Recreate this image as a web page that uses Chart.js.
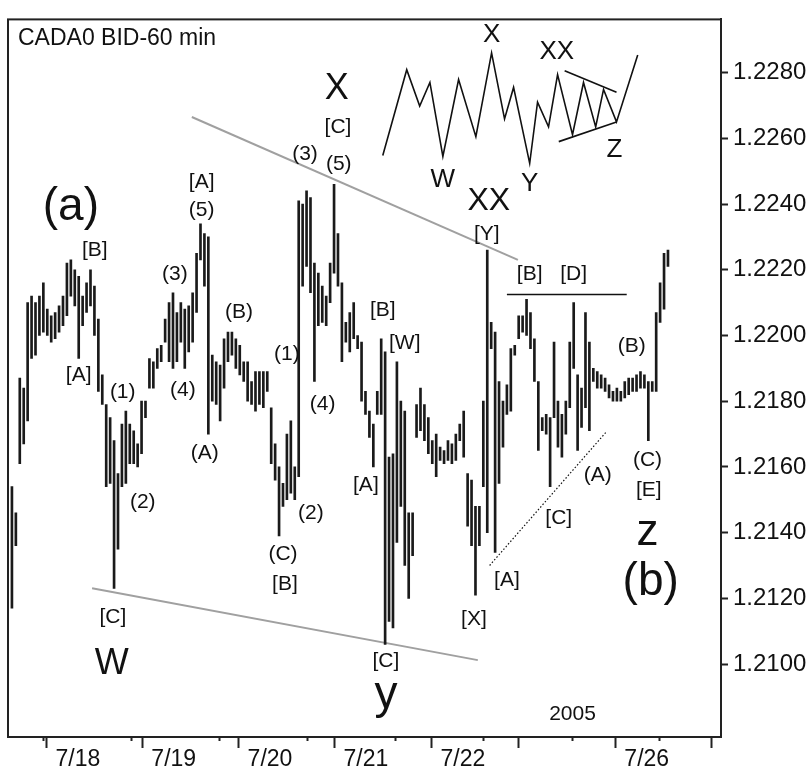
<!DOCTYPE html>
<html>
<head>
<meta charset="utf-8">
<script src="https://cdn.jsdelivr.net/npm/chart.js@4.4.0/dist/chart.umd.min.js"></script>
<style>
  html, body { margin: 0; padding: 0; background: #fff; }
  canvas { display: block; background: #fff; }
</style>
</head>
<body>
<canvas id="myChart" width="811" height="767"></canvas>
<script>
// hourly bars, CAD BID 60 min, 7/17 evening .. 7/26
var highs = [
  1.2154, 1.2146, 1.2187, 1.2184, 1.2210, 1.2212, 1.2210, 1.2212, 1.2216, 1.2208,
  1.2206, 1.2207, 1.2209, 1.2212, 1.2222, 1.2223, 1.2220, 1.2218, 1.2212, 1.2216,
  1.2220, 1.2215, 1.2205, 1.2188, 1.2179, 1.2175, 1.2168, 1.2158, 1.2173, 1.2177,
  1.2173, 1.2171, 1.2167, 1.2180, 1.2180, 1.2193, 1.2192, 1.2196, 1.2197, 1.2205,
  1.2210, 1.2213, 1.2207, 1.2210, 1.2208, 1.2209, 1.2213, 1.2225, 1.2234, 1.2231,
  1.2230, 1.2194, 1.2192, 1.2191, 1.2199, 1.2201, 1.2201, 1.2199, 1.2197, 1.2192,
  1.2192, 1.2186, 1.2189, 1.2189, 1.2189, 1.2189, 1.2178, 1.2167, 1.2160, 1.2155,
  1.2170, 1.2174, 1.2160, 1.2241, 1.2240, 1.2244, 1.2242, 1.2222, 1.2219, 1.2215,
  1.2212, 1.2222, 1.2246, 1.2231, 1.2216, 1.2204, 1.2207, 1.2210, 1.2200, 1.2198,
  1.2183, 1.2177, 1.2173, 1.2183, 1.2199, 1.2195, 1.2163, 1.2164, 1.2192, 1.2180,
  1.2177, 1.2146, 1.2146, 1.2179, 1.2184, 1.2179, 1.2175, 1.2168, 1.2170, 1.2166,
  1.2165, 1.2168, 1.2167, 1.2170, 1.2173, 1.2177, 1.2158, 1.2156, 1.2148, 1.2148,
  1.2180, 1.2226, 1.2204, 1.2201, 1.2186, 1.2180, 1.2185, 1.2196, 1.2197, 1.2206,
  1.2206, 1.2211, 1.2207, 1.2199, 1.2186, 1.2175, 1.2176, 1.2175, 1.2198, 1.2180,
  1.2176, 1.2180, 1.2198, 1.2210, 1.2188, 1.2184, 1.2207, 1.2198, 1.2190, 1.2189,
  1.2188, 1.2187, 1.2185, 1.2183, 1.2184, 1.2183, 1.2186, 1.2187, 1.2187, 1.2188,
  1.2189, 1.2188, 1.2186, 1.2186, 1.2207, 1.2216, 1.2225, 1.2226
];
var lows = [
  1.2117, 1.2136, 1.2161, 1.2167, 1.2174, 1.2193, 1.2194, 1.2200, 1.2201, 1.2200,
  1.2198, 1.2199, 1.2201, 1.2203, 1.2206, 1.2212, 1.2209, 1.2193, 1.2203, 1.2207,
  1.2209, 1.2200, 1.2183, 1.2179, 1.2154, 1.2155, 1.2123, 1.2135, 1.2154, 1.2155,
  1.2161, 1.2161, 1.2160, 1.2164, 1.2175, 1.2184, 1.2184, 1.2190, 1.2192, 1.2198,
  1.2192, 1.2190, 1.2192, 1.2198, 1.2190, 1.2195, 1.2198, 1.2207, 1.2223, 1.2215,
  1.2170, 1.2180, 1.2179, 1.2174, 1.2184, 1.2192, 1.2194, 1.2190, 1.2188, 1.2186,
  1.2180, 1.2179, 1.2177, 1.2179, 1.2178, 1.2183, 1.2161, 1.2156, 1.2139, 1.2148,
  1.2150, 1.2152, 1.2150, 1.2157, 1.2215, 1.2221, 1.2213, 1.2186, 1.2203, 1.2204,
  1.2203, 1.2210, 1.2219, 1.2215, 1.2192, 1.2198, 1.2195, 1.2199, 1.2196, 1.2180,
  1.2176, 1.2169, 1.2160, 1.2176, 1.2176, 1.2106, 1.2113, 1.2111, 1.2137, 1.2148,
  1.2130, 1.2120, 1.2133, 1.2169, 1.2171, 1.2168, 1.2164, 1.2161, 1.2157, 1.2162,
  1.2161, 1.2162, 1.2161, 1.2162, 1.2168, 1.2163, 1.2142, 1.2136, 1.2121, 1.2136,
  1.2154, 1.2140, 1.2196, 1.2134, 1.2155, 1.2166, 1.2176, 1.2177, 1.2194, 1.2199,
  1.2201, 1.2200, 1.2196, 1.2186, 1.2165, 1.2171, 1.2170, 1.2154, 1.2175, 1.2166,
  1.2163, 1.2170, 1.2178, 1.2190, 1.2165, 1.2172, 1.2178, 1.2171, 1.2186, 1.2184,
  1.2184, 1.2183, 1.2181, 1.2180, 1.2180, 1.2180, 1.2181, 1.2182, 1.2183, 1.2183,
  1.2184, 1.2184, 1.2168, 1.2183, 1.2183, 1.2204, 1.2208, 1.2221
];

// x axis: day boundaries (long ticks + labels) and the short ticks, in bar units
var dayTicks = [8.9, 33.3, 57.8, 82.2, 106.9, 129.0, 153.7, 178.1];
var dayLabels = ['7/18', '7/19', '7/20', '7/21', '7/22', '', '7/26', ''];
var minorTicks = [7.9, 30.3, 52.7, 75.1, 97.5, 119.8, 142.5, 164.6];
var priceTicks = [1.2100, 1.2120, 1.2140, 1.2160, 1.2180, 1.2200, 1.2220, 1.2240, 1.2260, 1.2280];

// drawn lines (bar index, price)
var upperTrend = [{x: 45.8, y: 1.22665}, {x: 128.8, y: 1.2223}];
var lowerTrend = [{x: 20.4, y: 1.21231}, {x: 118.6, y: 1.21012}];
var topLine = [{x: 126.0, y: 1.22125}, {x: 156.5, y: 1.22125}];
var triLower = [{x: 121.6, y: 1.21300}, {x: 151.4, y: 1.21708}];

// small wave sketch top right
var sketch = [
  {x: 94.4, y: 1.22548}, {x: 100.5, y: 1.22809}, {x: 103.8, y: 1.22698}, {x: 106.4, y: 1.2277},
  {x: 109.7, y: 1.22545}, {x: 113.7, y: 1.22779}, {x: 118.1, y: 1.22605}, {x: 122.1, y: 1.2286},
  {x: 125.4, y: 1.22659}, {x: 127.7, y: 1.22755}, {x: 131.8, y: 1.22524}, {x: 133.8, y: 1.2271},
  {x: 136.6, y: 1.22635}, {x: 138.9, y: 1.22794}, {x: 142.7, y: 1.22611}, {x: 145.5, y: 1.2277},
  {x: 148.6, y: 1.22635}, {x: 150.6, y: 1.22749}, {x: 153.9, y: 1.2265}, {x: 159.3, y: 1.22854}
];
var sketchUpper = [{x: 140.7, y: 1.22806}, {x: 153.9, y: 1.2274}];
var sketchLower = [{x: 139.2, y: 1.2259}, {x: 153.9, y: 1.2265}];

// wave labels: text, bar index, price, font size
var notes = [
  ['(3)', 74.6, 1.22551, 21], ['(5)', 83.2, 1.22521, 21], ['[C]', 83.0, 1.22635, 21],
  ['[A]', 48.3, 1.22467, 21], ['(5)', 48.3, 1.2238, 21], ['[B]', 21.1, 1.2226, 21],
  ['(3)', 41.5, 1.22185, 21], ['[A]', 17.0, 1.21879, 21], ['(1)', 28.2, 1.21828, 21],
  ['(4)', 43.5, 1.21834, 21], ['(2)', 33.3, 1.21492, 21], ['(A)', 49.1, 1.21642, 21],
  ['[C]', 25.7, 1.21144, 21], ['(B)', 57.8, 1.22071, 21], ['(1)', 70.0, 1.21942, 21],
  ['(4)', 79.1, 1.21792, 21], ['(2)', 76.1, 1.21459, 21], ['(C)', 69.0, 1.21333, 21],
  ['[B]', 69.5, 1.21243, 21], ['[B]', 94.4, 1.22077, 21], ['[W]', 100.0, 1.21978, 21],
  ['[A]', 90.1, 1.21543, 21], ['[C]', 95.2, 1.21009, 21], ['[Y]', 120.9, 1.22308, 21],
  ['[X]', 117.6, 1.21138, 21], ['[A]', 126.0, 1.21255, 21], ['[C]', 139.2, 1.21444, 21],
  ['(A)', 149.1, 1.21576, 21], ['(C)', 161.8, 1.21621, 21], ['[E]', 162.1, 1.21528, 21],
  ['[B]', 131.8, 1.22188, 21], ['[D]', 143.0, 1.22188, 21], ['(B)', 157.8, 1.21966, 21],
  ['2005', 142.7, 1.20847, 21],
  ['(a)', 15.0, 1.22389, 46], ['X', 82.7, 1.22749, 36], ['XX', 121.4, 1.2241, 32],
  ['W', 25.4, 1.20999, 36], ['y', 95.2, 1.20905, 46], ['z', 161.8, 1.21399, 44],
  ['(b)', 162.6, 1.21249, 46],
  ['X', 122.1, 1.22914, 26], ['XX', 138.7, 1.22863, 26], ['W', 109.7, 1.22473, 26],
  ['Y', 131.8, 1.22461, 26], ['Z', 153.4, 1.22566, 26]
];

Chart.defaults.font.family = "'Liberation Sans', Arial, sans-serif";
Chart.defaults.color = '#111';

var bars = highs.map(function(h, i) { return {x: i, y: [lows[i], h]}; });

function lineSet(pts, color, width, dash) {
  return {
    type: 'line', data: pts, borderColor: color, borderWidth: width,
    borderDash: dash || [], pointRadius: 0, fill: false, tension: 0
  };
}

var extras = {
  id: 'extras',
  afterDraw: function(chart) {
    var ctx = chart.ctx, a = chart.chartArea;
    var xs = chart.scales.x, ys = chart.scales.y;
    ctx.save();
    // frame
    ctx.strokeStyle = '#222';
    ctx.lineWidth = 2;
    ctx.strokeRect(a.left, a.top, a.right - a.left, a.bottom - a.top);
    // short ticks under the axis
    minorTicks.forEach(function(v) {
      var px = Math.round(xs.getPixelForValue(v)) + 0.5;
      ctx.beginPath();
      ctx.moveTo(px, a.bottom);
      ctx.lineTo(px, a.bottom + 4);
      ctx.stroke();
    });
    // title
    ctx.fillStyle = '#111';
    ctx.font = "23px 'Liberation Sans', Arial, sans-serif";
    ctx.textAlign = 'left';
    ctx.textBaseline = 'middle';
    ctx.fillText('CADA0 BID-60 min', a.left + 10, a.top + 19);
    // wave labels
    ctx.textAlign = 'center';
    notes.forEach(function(n) {
      ctx.font = n[3] + "px 'Liberation Sans', Arial, sans-serif";
      ctx.fillText(n[0], xs.getPixelForValue(n[1]), ys.getPixelForValue(n[2]));
    });
    ctx.restore();
  }
};

var ctx = document.getElementById('myChart').getContext('2d');
var myChart = new Chart(ctx, {
  type: 'bar',
  data: {
    datasets: [
      {type: 'bar', data: bars, backgroundColor: '#1a1a1a', borderWidth: 0, barThickness: 2},
      lineSet(upperTrend, '#a0a0a0', 2),
      lineSet(lowerTrend, '#a0a0a0', 2),
      lineSet(topLine, '#111', 1.5),
      lineSet(triLower, '#111', 1.2, [1.5, 2]),
      lineSet(sketch, '#111', 1.6),
      lineSet(sketchUpper, '#111', 1.6),
      lineSet(sketchLower, '#111', 1.6)
    ]
  },
  options: {
    responsive: false,
    animation: false,
    layout: {padding: {left: 8, top: 9, right: 0, bottom: 0}},
    plugins: {legend: {display: false}, tooltip: {enabled: false}, title: {display: false}},
    scales: {
      x: {
        type: 'linear', position: 'bottom', min: -1, max: 180.5, offset: false,
        afterBuildTicks: function(s) { s.ticks = dayTicks.map(function(v) { return {value: v}; }); },
        afterFit: function(s) { s.height = 30; s.paddingLeft = 0; s.paddingRight = 0; },
        grid: {drawOnChartArea: false, offset: false, tickLength: 11, tickColor: '#222', tickWidth: 2},
        border: {color: '#222', width: 2},
        ticks: {
          autoSkip: false, maxRotation: 0, labelOffset: 31, padding: -2,
          font: {size: 23}, color: '#111',
          callback: function(v, i) { return dayLabels[i]; }
        }
      },
      y: {
        type: 'linear', position: 'right', min: 1.20778, max: 1.22962,
        afterBuildTicks: function(s) { s.ticks = priceTicks.map(function(v) { return {value: v}; }); },
        afterFit: function(s) { s.width = 90; },
        grid: {drawOnChartArea: false, tickLength: 7, tickColor: '#222', tickWidth: 2},
        border: {color: '#222', width: 2},
        ticks: {
          padding: 5, font: {size: 24}, color: '#111',
          callback: function(v) { return v.toFixed(4); }
        }
      }
    }
  },
  plugins: [extras]
});
</script>
</body>
</html>
